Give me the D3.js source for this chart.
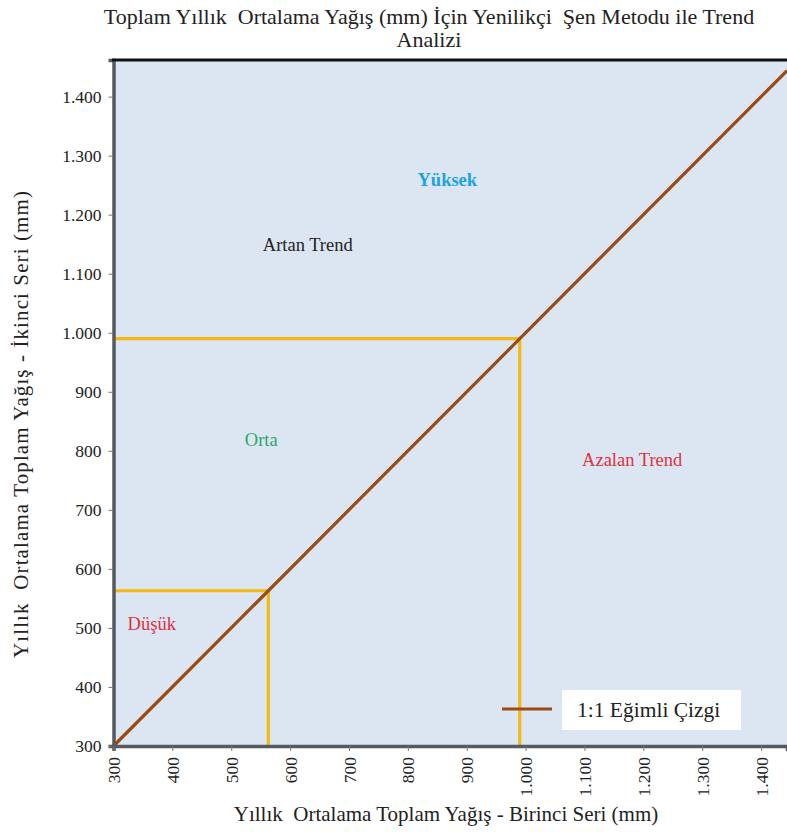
<!DOCTYPE html>
<html>
<head>
<meta charset="utf-8">
<script src="https://cdn.jsdelivr.net/npm/d3@7"></script>
<style>
  html, body { margin: 0; padding: 0; background: #ffffff; }
  svg { display: block; }
  text { font-family: "Liberation Serif", "Times New Roman", serif; white-space: pre; }
</style>
</head>
<body>
<svg id="chart" width="787" height="832"></svg>
<script>
// Axis domain and ticks (mm)
const xDomain = [300, 1444];
const yDomain = [300, 1462];
const xTicks = [300, 400, 500, 600, 700, 800, 900, 1000, 1100, 1200, 1300, 1400];
const yTicks = [300, 400, 500, 600, 700, 800, 900, 1000, 1100, 1200, 1300, 1400];

// 1:1 slope line end points
const oneToOne = [300, 1444];

// Class boundaries: low/medium and medium/high
const lowLimit = 563;
const highLimit = 990;

// Region labels: text, colour, anchor value on each axis
const regionText = ["Yüksek", "Artan Trend", "Orta", "Azalan Trend", "Düşük"];
const regionX = [867, 630, 551, 1181, 365];
const regionY = [1258, 1149, 819, 785, 507];
const regionColor = ["#20a3e0", "#222222", "#2aa866", "#e0303c", "#e0303c"];
const regionBold = [true, false, false, false, false];

const titleLines = ["Toplam Yıllık  Ortalama Yağış (mm) İçin Yenilikçi  Şen Metodu ile Trend", "Analizi"];
const xTitle = "Yıllık  Ortalama Toplam Yağış - Birinci Seri (mm)";
const yTitle = "Yıllık  Ortalama Toplam Yağış - İkinci Seri (mm)";
const legendLabel = "1:1 Eğimli Çizgi";

const svg = d3.select("#chart");
const plotL = 113.5, plotR = 787, plotT = 60, plotB = 746;

const x = d3.scaleLinear().domain(xDomain).range([plotL, plotR]);
const y = d3.scaleLinear().domain(yDomain).range([plotB, plotT]);

const fmt = d => d3.format(",")(d).replace(/,/g, ".");

// Plot background
svg.append("rect")
  .attr("x", plotL).attr("y", plotT)
  .attr("width", plotR - plotL).attr("height", plotB - plotT)
  .attr("fill", "#dce6f2");

// Title
svg.append("text")
  .attr("text-anchor", "middle")
  .attr("font-size", 22).attr("fill", "#222")
  .selectAll("tspan").data(titleLines).join("tspan")
  .attr("x", 429).attr("y", (d, i) => 24 + i * 23)
  .text(d => d);

// Class boundary lines
const gold = "#f6b910";
const bounds = [lowLimit, highLimit];
svg.append("g").selectAll("path").data(bounds).join("path")
  .attr("d", v => `M${x(xDomain[0])},${y(v)}H${x(v)}V${y(yDomain[0])}`)
  .attr("fill", "none").attr("stroke", gold).attr("stroke-width", 3.2);

// 1:1 line
svg.append("line")
  .attr("x1", x(oneToOne[0])).attr("y1", y(oneToOne[0]))
  .attr("x2", x(oneToOne[1])).attr("y2", y(oneToOne[1]))
  .attr("stroke", "#9a4a12").attr("stroke-width", 3.2);

// Region labels
svg.append("g").selectAll("text").data(regionText).join("text")
  .attr("x", (d, i) => x(regionX[i]))
  .attr("y", (d, i) => y(regionY[i]) + 6)
  .attr("text-anchor", "middle")
  .attr("font-size", 18.5)
  .attr("font-weight", (d, i) => regionBold[i] ? "bold" : "normal")
  .attr("fill", (d, i) => regionColor[i])
  .text(d => d);

// Y axis
const yAxis = svg.append("g")
  .attr("transform", `translate(${plotL},0)`)
  .call(d3.axisLeft(y).tickValues(yTicks).tickFormat(fmt).tickSize(5).tickPadding(7));
yAxis.select(".domain").attr("stroke", "#555a60").attr("stroke-width", 3.5);
yAxis.selectAll(".tick line").attr("stroke", "#777").attr("stroke-width", 1);
yAxis.selectAll(".tick text").attr("font-size", 17.5).attr("fill", "#222")
  .attr("font-family", "Liberation Serif, serif");

// X axis
const xAxis = svg.append("g")
  .attr("transform", `translate(0,${plotB})`)
  .call(d3.axisBottom(x).tickValues(xTicks).tickFormat(fmt).tickSize(5).tickPadding(4));
xAxis.select(".domain").attr("stroke", "#555a60").attr("stroke-width", 3.5);
xAxis.selectAll(".tick line").attr("stroke", "#777").attr("stroke-width", 1);
xAxis.selectAll(".tick text")
  .attr("font-size", 17.5).attr("fill", "#222")
  .attr("font-family", "Liberation Serif, serif")
  .attr("transform", "rotate(-90)")
  .attr("text-anchor", "end")
  .attr("x", -11).attr("y", 0).attr("dy", "0.35em");

// Top frame
svg.append("line")
  .attr("x1", plotL - 1.5).attr("x2", plotR)
  .attr("y1", plotT).attr("y2", plotT)
  .attr("stroke", "#111").attr("stroke-width", 3);

// Axis titles
svg.append("text")
  .attr("x", 446).attr("y", 821)
  .attr("text-anchor", "middle").attr("font-size", 21).attr("fill", "#222")
  .text(xTitle);
svg.append("text")
  .attr("transform", "translate(28,424) rotate(-90)")
  .attr("text-anchor", "middle").attr("font-size", 21).attr("fill", "#222")
  .attr("letter-spacing", 1.1)
  .text(yTitle);

// Legend
const lg = svg.append("g");
lg.append("rect")
  .attr("x", 562).attr("y", 690).attr("width", 179).attr("height", 40)
  .attr("fill", "#ffffff");
lg.append("line")
  .attr("x1", 502).attr("x2", 552).attr("y1", 709).attr("y2", 709)
  .attr("stroke", "#9a4a12").attr("stroke-width", 3.2);
lg.append("text")
  .attr("x", 577).attr("y", 717)
  .attr("font-size", 21.5).attr("fill", "#222")
  .text(legendLabel);
</script>
</body>
</html>
